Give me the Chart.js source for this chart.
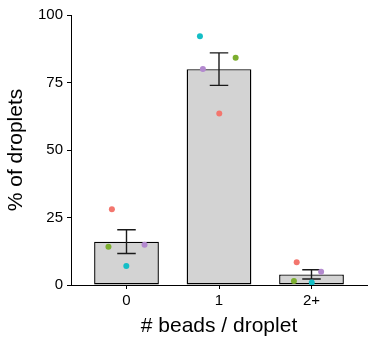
<!DOCTYPE html>
<html>
<head>
<meta charset="utf-8">
<script src="https://cdn.jsdelivr.net/npm/chart.js@4"></script>
<style>
  html, body { margin: 0; padding: 0; background: #fff; }
  #wrap { width: 370px; height: 344px; position: relative; }
</style>
</head>
<body>
<div id="wrap"><canvas id="c"></canvas></div>
<script>
// ---- data ----
const categories = ['0', '1', '2+'];
const means = [16.05, 79.95, 3.93];
const stdErr = [4.4, 6.03, 1.73];
const repNames = ['rep1', 'rep2', 'rep3', 'rep4'];
const repRed = [28.1, 63.5, 8.4];
const repGreen = [14.2, 84.2, 1.5];
const repCyan = [7.0, 92.1, 0.9];
const repPurple = [14.9, 80.0, 4.9];
const jitterRed = [-0.158, 0.003, -0.16];
const jitterGreen = [-0.195, 0.18, -0.19];
const jitterCyan = [-0.002, -0.206, 0.003];
const jitterPurple = [0.195, -0.174, 0.104];
const yTicks = [0, 25, 50, 75, 100];

const FONT = '"Liberation Sans", Arial, Helvetica, sans-serif';

const errorBars = {
  id: 'errorBars',
  afterDatasetDraw(chart, args, opts) {
    if (args.index !== 0) return;
    const { ctx } = chart;
    const x = chart.scales.x, y = chart.scales.y;
    ctx.save();
    ctx.strokeStyle = opts.color;
    ctx.lineWidth = opts.width;
    means.forEach((m, i) => {
      const px = x.getPixelForValue(i);
      const hw = Math.abs(x.getPixelForValue(i + opts.capHalf) - px);
      const top = y.getPixelForValue(m + stdErr[i]);
      const bot = y.getPixelForValue(m - stdErr[i]);
      ctx.beginPath();
      ctx.moveTo(px, top); ctx.lineTo(px, bot);
      ctx.moveTo(px - hw, top); ctx.lineTo(px + hw, top);
      ctx.moveTo(px - hw, bot); ctx.lineTo(px + hw, bot);
      ctx.stroke();
    });
    ctx.restore();
  }
};

function pts(vals, jit) {
  return vals.map((v, i) => ({ x: i + jit[i], y: v }));
}
function rep(label, vals, jit, color) {
  return {
    type: 'scatter', label, data: pts(vals, jit), order: 0,
    pointRadius: 3, pointHoverRadius: 3, pointBorderWidth: 0,
    pointBackgroundColor: color, pointBorderColor: color, showLine: false
  };
}

new Chart(document.getElementById('c'), {
  type: 'bar',
  data: {
    datasets: [
      {
        type: 'bar', label: 'mean', order: 5,
        data: means.map((m, i) => ({ x: i, y: m })),
        backgroundColor: '#D3D3D3', borderColor: '#000', borderWidth: 1.4,
        borderSkipped: false, barPercentage: 0.7, categoryPercentage: 1.0
      },
      rep(repNames[0], repRed, jitterRed, '#F3766E'),
      rep(repNames[1], repGreen, jitterGreen, '#7CAE2F'),
      rep(repNames[2], repCyan, jitterCyan, '#14BEC6'),
      rep(repNames[3], repPurple, jitterPurple, '#B389CF')
    ]
  },
  options: {
    responsive: true, maintainAspectRatio: false, animation: false,
    layout: { padding: { top: 15, right: 0, bottom: 0, left: 0 } },
    plugins: {
      legend: { display: false }, tooltip: { enabled: false },
      errorBars: { color: '#1a1a1a', width: 1.4, capHalf: 0.1 }
    },
    scales: {
      x: {
        type: 'linear', min: -0.6, max: 2.6, offset: false,
        afterBuildTicks: (s) => { s.ticks = categories.map((c, i) => ({ value: i })); },
        afterFit: (s) => { s.height = 59; },
        grid: { display: true, offset: false, drawOnChartArea: false, drawTicks: true, tickLength: 4, color: '#000', lineWidth: 1 },
        border: { display: true, color: '#000', width: 1 },
        ticks: { padding: 3, color: '#000', font: { family: FONT, size: 15 },
                 callback: (v) => categories[Math.round(v)] },
        title: { display: true, text: '# beads / droplet', color: '#000',
                 font: { family: FONT, size: 21 }, padding: { top: 0, bottom: 5 } }
      },
      y: {
        type: 'linear', min: 0, max: 100,
        afterBuildTicks: (s) => { s.ticks = yTicks.map(v => ({ value: v })); },
        afterFit: (s) => { s.width = 71; },
        grid: { display: true, drawOnChartArea: false, drawTicks: true, tickLength: 4, color: '#000', lineWidth: 1 },
        border: { display: true, color: '#000', width: 1 },
        ticks: { padding: 4, color: '#000', font: { family: FONT, size: 15 } },
        title: { display: true, text: '% of droplets', color: '#000',
                 font: { family: FONT, size: 21 }, padding: { top: 3.5, bottom: 0 } }
      }
    }
  },
  plugins: [errorBars]
});
</script>
</body>
</html>
